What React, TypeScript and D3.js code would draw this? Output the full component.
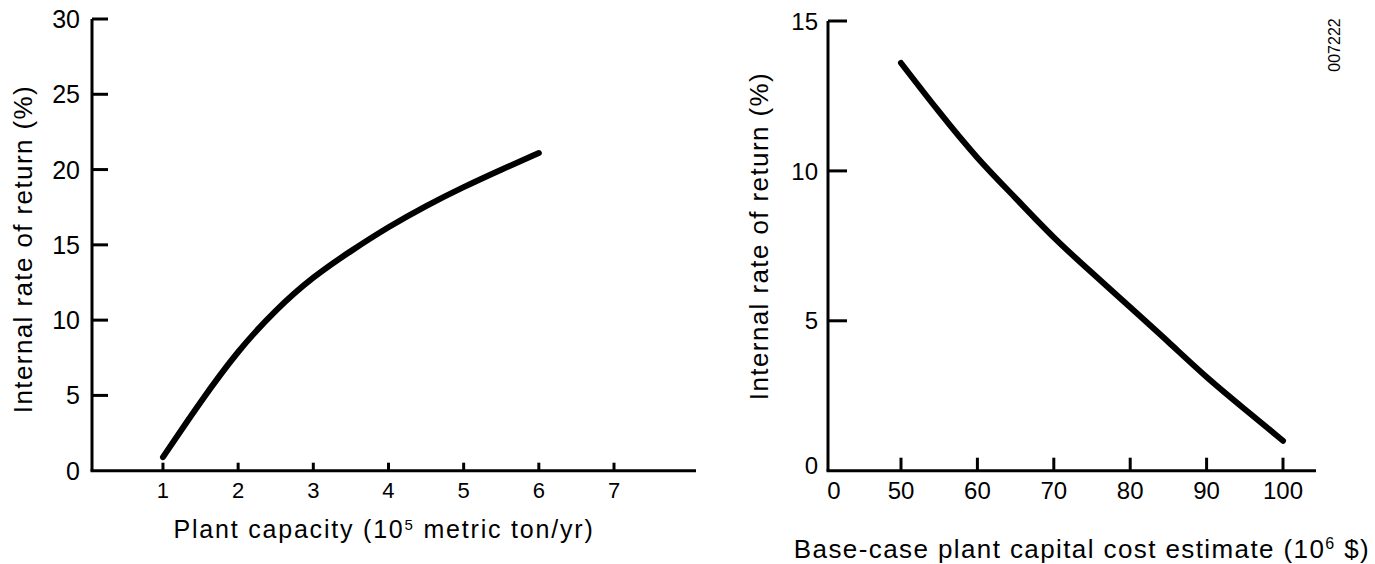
import React from 'react';
import * as d3 from 'd3';

// left panel: IRR vs plant capacity
const capacity = [1, 1.5, 2, 2.5, 3, 3.5, 4, 4.5, 5, 5.5, 6];
const irrByCapacity = [0.9, 4.6, 8.0, 10.7, 12.9, 14.6, 16.2, 17.6, 18.85, 20.0, 21.1];
const capacityTicks = [1, 2, 3, 4, 5, 6, 7];
const irrTicksLeft = [0, 5, 10, 15, 20, 25, 30];

// right panel: IRR vs capital cost
const capitalCost = [50, 55, 60, 65, 70, 75, 80, 85, 90, 95, 100];
const irrByCost = [13.6, 11.95, 10.4, 9.1, 7.75, 6.6, 5.45, 4.3, 3.1, 2.05, 1.0];
const costTicks = [50, 60, 70, 80, 90, 100];
const irrTicksRight = [0, 5, 10, 15];

const FONT = '"Liberation Sans", Arial, Helvetica, sans-serif';

const App = () => {
  // Scales
  const xL = d3.scaleLinear().domain([0, 7]).range([87.8, 614]);
  const yL = d3.scaleLinear().domain([0, 30]).range([470.7, 19]);
  const xR = d3.scaleLinear().domain([50, 100]).range([901, 1283]);
  const yR = d3.scaleLinear().domain([0, 15]).range([470.7, 21]);

  const leftAxisX = 92;
  const leftAxisEnd = 696;
  const rightAxisX = 828;
  const rightAxisEnd = 1316;

  const lineL = d3
    .line<number>()
    .x((d, i) => xL(capacity[i]))
    .y(d => yL(d))
    .curve(d3.curveBasis);

  const lineR = d3
    .line<number>()
    .x((d, i) => xR(capitalCost[i]))
    .y(d => yR(d))
    .curve(d3.curveBasis);

  return (
    <svg
      width={1375}
      height={564}
      style={{ position: 'absolute', left: 0, top: 0, background: 'white' }}
      fontFamily={FONT}
    >
      {/* ---- Left chart ---- */}
      <g stroke="black" strokeWidth={3} fill="none">
        <line x1={leftAxisX} x2={leftAxisX} y1={yL(30)} y2={yL(0)} />
        <line x1={leftAxisX - 1.5} x2={leftAxisEnd} y1={yL(0)} y2={yL(0)} />
        {irrTicksLeft.filter(t => t > 0).map(t => (
          <line key={t} x1={leftAxisX} x2={leftAxisX + 16} y1={yL(t)} y2={yL(t)} />
        ))}
        {capacityTicks.map(t => (
          <line key={t} x1={xL(t)} x2={xL(t)} y1={yL(0)} y2={yL(0) - 8} />
        ))}
      </g>
      <g fontSize={25} fill="black" textAnchor="end">
        {irrTicksLeft.map(t => (
          <text key={t} x={80} y={yL(t)} dy="0.36em">{t}</text>
        ))}
      </g>
      <g fontSize={22} fill="black" textAnchor="middle">
        {capacityTicks.map(t => (
          <text key={t} x={xL(t)} y={498}>{t}</text>
        ))}
      </g>
      <path d={lineL(irrByCapacity) || ''} fill="none" stroke="black" strokeWidth={6} strokeLinecap="round" />
      <text x={384} y={538} fontSize={25} letterSpacing={1.8} textAnchor="middle">
        Plant capacity (10<tspan fontSize={15} dy={-8}>5</tspan>
        <tspan dy={8}> metric ton/yr)</tspan>
      </text>
      <text transform="translate(32,249) rotate(-90)" fontSize={26} letterSpacing={1.4} textAnchor="middle">
        Internal rate of return (%)
      </text>

      {/* ---- Right chart ---- */}
      <g stroke="black" strokeWidth={3} fill="none">
        <line x1={rightAxisX} x2={rightAxisX} y1={yR(15)} y2={yR(0)} />
        <line x1={rightAxisX - 1.5} x2={rightAxisEnd} y1={yR(0)} y2={yR(0)} />
        {irrTicksRight.filter(t => t > 0).map(t => (
          <line key={t} x1={rightAxisX} x2={rightAxisX + 19} y1={yR(t)} y2={yR(t)} />
        ))}
        {costTicks.map(t => (
          <line key={t} x1={xR(t)} x2={xR(t)} y1={yR(0)} y2={yR(0) - 13} />
        ))}
      </g>
      <g fontSize={24} fill="black" textAnchor="end">
        {irrTicksRight.map(t => (
          <text key={t} x={818} y={yR(t) - (t === 0 ? 5 : 0)} dy="0.36em">{t}</text>
        ))}
      </g>
      <g fontSize={24} fill="black" textAnchor="middle">
        <text x={834} y={499}>0</text>
        {costTicks.map(t => (
          <text key={t} x={xR(t)} y={499}>{t}</text>
        ))}
      </g>
      <path d={lineR(irrByCost) || ''} fill="none" stroke="black" strokeWidth={6} strokeLinecap="round" />
      <text x={1082} y={558} fontSize={26} letterSpacing={1.4} textAnchor="middle">
        Base-case plant capital cost estimate (10<tspan fontSize={16} dy={-9}>6</tspan>
        <tspan dy={9}> $)</tspan>
      </text>
      <text transform="translate(768,236) rotate(-90)" fontSize={26} letterSpacing={1.4} textAnchor="middle">
        Internal rate of return (%)
      </text>

      <text transform="translate(1340,45) rotate(-90)" fontSize={16} textAnchor="middle">
        007222
      </text>
    </svg>
  );
};

export default App;
